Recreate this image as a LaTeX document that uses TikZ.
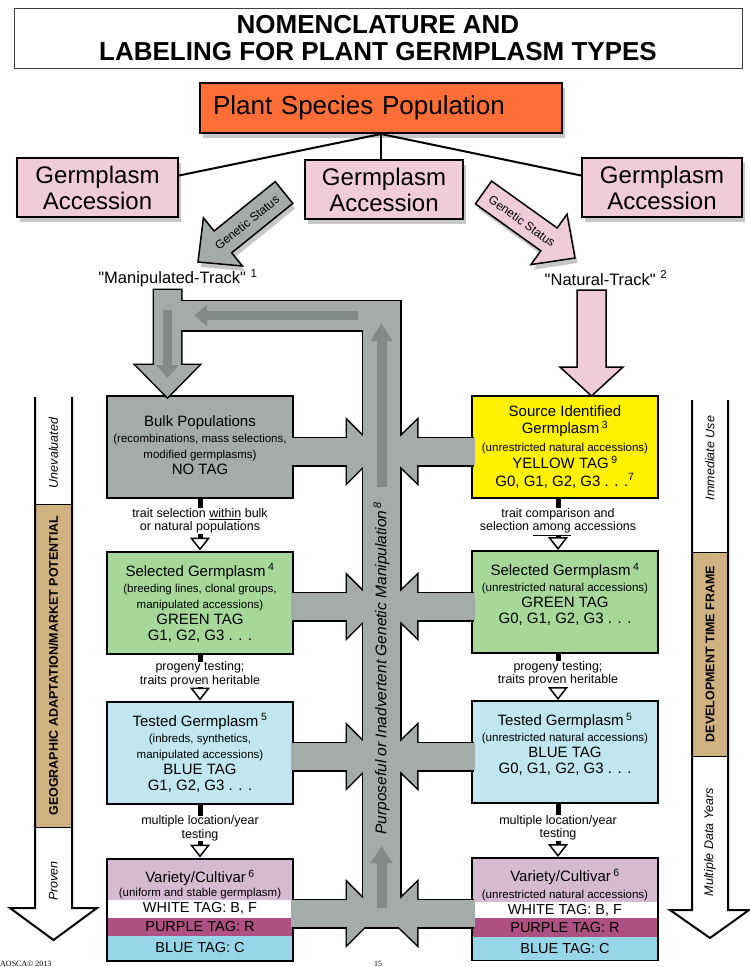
\documentclass[tikz,border=0pt]{standalone}
\usepackage{fontspec}
\setmainfont{Liberation Sans}
\newfontfamily\footfont{Liberation Serif}
\usetikzlibrary{arrows.meta}
\usetikzlibrary{positioning}
\usetikzlibrary{shadows}

\definecolor{orangebox}{RGB}{255,110,55}
\definecolor{pinkbox}{RGB}{240,204,218}
\definecolor{graybox}{RGB}{164,171,168}
\definecolor{grayinner}{RGB}{130,139,135}
\definecolor{yellowbox}{RGB}{255,242,0}
\definecolor{greenbox}{RGB}{166,216,154}
\definecolor{bluebox}{RGB}{192,230,240}
\definecolor{lilacbox}{RGB}{214,186,210}
\definecolor{purpletag}{RGB}{174,80,130}
\definecolor{bluetag}{RGB}{150,214,232}
\definecolor{tanbar}{RGB}{208,178,130}

\newcommand{\fs}[2]{\fontsize{#1}{#2}\selectfont}
\newcommand{\smallline}[1]{{\fs{11.5}{12}#1}}
\newcommand{\qt}[1]{\textquotedbl#1\textquotedbl}

\begin{document}
\begin{tikzpicture}[x=1pt,y=-1pt]
    \tikzstyle{castshadow}=[drop shadow={shadow xshift=2.5pt,shadow yshift=-5pt,opacity=0.22,fill=black}]
    \tikzstyle{accession}=[draw=black,line width=2pt,fill=pinkbox,castshadow,minimum height=59pt,inner sep=0pt,align=center,font=\fs{24}{26}]
    \tikzstyle{link}=[draw=black,line width=2pt]
    \tikzstyle{stage}=[draw=black,line width=2pt,minimum width=186pt,minimum height=102pt,inner sep=0pt]
    \tikzstyle{stagetext}=[align=center,inner sep=0pt,font=\fs{15}{16}]
    \tikzstyle{tagline}=[inner sep=0pt,font=\fs{14.5}{16}]
    \tikzstyle{note}=[align=center,inner sep=0pt,font=\fs{12.5}{13.5}]
    \tikzstyle{stem}=[draw=black,line width=5pt]
    \tikzstyle{stemtip}=[stem,-{Triangle[width=20pt,length=13pt,fill=white,line width=1.5pt]}]
    \tikzstyle{track}=[font=\fs{16.5}{18}]
    \tikzstyle{fatarrow}=[draw=black,line width=1.5pt]
    \tikzstyle{netline}=[draw=black,line width=3pt]
    \tikzstyle{netfill}=[fill=graybox]
    \tikzstyle{flow}=[draw=grayinner,line width=9pt]
    \tikzstyle{sidebar}=[draw=black,line width=2pt]
    \tikzstyle{sideband}=[draw=black,line width=0.6pt,fill=tanbar]
    \tikzstyle{sidenote}=[rotate=90,font=\itshape\fs{12.5}{14}]
    \tikzstyle{sidehead}=[rotate=90,font=\bfseries\fs{12.5}{14}]

    \useasboundingbox (0,0) rectangle (750,967);

    % title
    \node[draw=black!75,line width=1pt,minimum width=728pt,minimum height=60pt,align=center,inner sep=0pt,font=\bfseries\fs{26}{27}] (title) at (378,38) {NOMENCLATURE AND\\LABELING FOR PLANT GERMPLASM TYPES};

    % population and accessions
    \node[draw=black,line width=2pt,fill=orangebox,castshadow,minimum height=50pt,text width=336pt,inner xsep=13pt,inner ysep=0pt,font=\fs{26}{28}] (plant) at (381,108) {Plant Species Population};
    \node[accession,minimum width=161pt] (accL) at (97.5,187.5) {Germplasm\\Accession};
    \node[accession,minimum width=158pt] (accM) at (384,189.5) {Germplasm\\Accession};
    \node[accession,minimum width=160pt] (accR) at (662,187.5) {Germplasm\\Accession};

    \path[link] (plant.south) -- (plant.south |- accM.north);
    \path[link] (plant.south) -- ([yshift=12pt]accL.east);
    \path[link] (plant.south) -- ([yshift=12pt]accR.west);

    % genetic status
    \path[fatarrow,fill=graybox,castshadow] (275.2,181.6) -- (214.1,231.0) -- (203.4,217.8) -- (198,262) -- (242.4,266.0) -- (231.7,252.8) -- (292.8,203.4) -- cycle;
    \node[rotate=38.9,inner sep=0pt,font=\fs{12}{13}] (gsL) at (247,222.5) {Genetic Status};
    \path[fatarrow,fill=pinkbox,castshadow] (491.6,181.1) -- (557.2,228.0) -- (567.05,214.2) -- (575,258) -- (530.95,264.6) -- (540.8,250.8) -- (475.4,203.9) -- cycle;
    \node[rotate=-35.6,inner sep=0pt,font=\fs{12}{13}] (gsR) at (522,221) {Genetic Status};

    % tracks
    \node[track] (mtrack) at (178,278) {\qt{Manipulated-Track}\ \textsuperscript{1}};
    \node[track] (ntrack) at (606,278) {\qt{Natural-Track}\ \textsuperscript{2}};
    \path[fatarrow,fill=pinkbox] (577,290) -- (606,290) -- (606,367) -- (623,367) -- (591.5,396) -- (560,367) -- (577,367) -- cycle;

    % stages
    \node[stage,fill=graybox] (lbulk) at (200,447) {};
    \node[stage,fill=greenbox] (lsel) at (200,602.5) {};
    \node[stage,fill=bluebox] (ltest) at (200,752.5) {};
    \node[stage,fill=lilacbox] (lvar) at (200,909.5) {};
    \node[stage,fill=yellowbox] (rsrc) at (565,447) {};
    \node[stage,fill=greenbox] (rsel) at (565,602) {};
    \node[stage,fill=bluebox] (rtest) at (565,752) {};
    \node[stage,fill=lilacbox] (rvar) at (565,909) {};

    \foreach \cx/\side/\w/\p/\b in {200/l/899.5/917.5/935.5,565/r/902/918/937} {
      \fill[white] (\cx-92,\w) rectangle (\cx+92,\p);
      \fill[purpletag] (\cx-92,\p) rectangle (\cx+92,\b);
      \fill[bluetag] (\cx-92,\b) rectangle (\cx+92,959.5);
      \node[tagline] (white-\side) at (\cx,{(\w+\p)/2}) {WHITE TAG: B, F};
      \node[tagline] (purple-\side) at (\cx,{(\p+\b)/2}) {PURPLE TAG: R};
      \node[tagline] (blue-\side) at (\cx,{(\b+959.5)/2}) {BLUE TAG: C};
    }

    \node[stagetext,below=20pt of lbulk.north] (lbulktext) {Bulk Populations\\\smallline{(recombinations, mass selections,}\\\smallline{modified germplasms)}\\NO TAG};
    \node[stagetext,below=13pt of lsel.north] (lseltext) {Selected Germplasm\,\textsuperscript{4}\\\smallline{(breeding lines, clonal groups,}\\\smallline{manipulated accessions)}\\GREEN TAG\\G1, G2, G3 . . .};
    \node[stagetext,below=13pt of ltest.north] (ltesttext) {Tested Germplasm\,\textsuperscript{5}\\\smallline{(inbreds, synthetics,}\\\smallline{manipulated accessions)}\\BLUE TAG\\G1, G2, G3 . . .};
    \node[stagetext,below=12pt of lvar.north] (lvartext) {Variety/Cultivar\,\textsuperscript{6}\\[-1.5pt]\smallline{(uniform and stable germplasm)}};
    \node[stagetext,font=\fs{15}{17.5},below=10pt of rsrc.north] (rsrctext) {Source Identified\\Germplasm\,\textsuperscript{3}\\\smallline{(unrestricted natural accessions)}\\YELLOW TAG\,\textsuperscript{9}\\G0, G1, G2, G3 . . .\textsuperscript{7}};
    \node[stagetext,below=13pt of rsel.north] (rseltext) {Selected Germplasm\,\textsuperscript{4}\\\smallline{(unrestricted natural accessions)}\\GREEN TAG\\G0, G1, G2, G3 . . .};
    \node[stagetext,below=13pt of rtest.north] (rtesttext) {Tested Germplasm\,\textsuperscript{5}\\\smallline{(unrestricted natural accessions)}\\BLUE TAG\\G0, G1, G2, G3 . . .};
    \node[stagetext,below=12pt of rvar.north] (rvartext) {Variety/Cultivar\,\textsuperscript{6}\\[1pt]\smallline{(unrestricted natural accessions)}};

    % steps between stages
    \node[note,below=9pt of lbulk] (lnote1) {trait selection \underline{within} bulk\\or natural populations};
    \node[note,below=9pt of rsrc,xshift=-7pt] (rnote1) {trait comparison and\\selection \underline{among} accessions};
    \node[note,below=7pt of lsel] (lnote2) {progeny testing;\\traits proven heritable};
    \node[note,below=7pt of rsel,xshift=-7pt] (rnote2) {progeny testing;\\traits proven heritable};
    \node[note,below=11pt of ltest] (lnote3) {multiple location/year\\testing};
    \node[note,below=11pt of rtest,xshift=-7pt] (rnote3) {multiple location/year\\testing};

    \foreach \a/\n/\b in {lbulk/lnote1/lsel,lsel/lnote2/ltest,ltest/lnote3/lvar,rsrc/rnote1/rsel,rsel/rnote2/rtest,rtest/rnote3/rvar} {
      \path[stem] (\n.north |- \a.south) -- (\n.north);
      \path[stemtip] (\n.south) -- (\n.south |- \b.north);
    }

    % manipulation network: outline first, then fill over it
    \foreach \pass/\reach in {netline/0,netfill/2.5} {
      \path[\pass] (363,301) rectangle (400,927);
      \path[\pass] (154,301) rectangle (400,330);
      \path[\pass] (154,290) -- (181,290) -- (181,365) -- (199,365) -- (167.5,397) -- (136,365) -- (154,365) -- cycle;
      \foreach \c in {451.5,606.5,756.5,913.5} {
        \path[\pass] (293-\reach,\c-13.5) rectangle (347,\c+13.5);
        \path[\pass] (347,\c-31) -- (378,\c) -- (347,\c+31) -- cycle;
        \path[\pass] (417,\c-31) -- (385,\c) -- (417,\c+31) -- cycle;
        \path[\pass] (417,\c-13.5) rectangle (472+\reach,\c+13.5);
      }
    }

    \draw[flow,-{Triangle[width=20pt,length=13pt]}] (358,315.5) -- (194,315.5);
    \draw[flow,-{Triangle[width=22pt,length=13pt]}] (167.5,310) -- (167.5,378);
    \draw[flow,line width=10pt,-{Triangle[width=21pt,length=18pt]}] (381.5,487) -- (381.5,323);
    \draw[flow,line width=10pt,-{Triangle[width=21pt,length=17pt]}] (381.5,908) -- (381.5,846);

    \node[rotate=90,font=\itshape\fs{15.5}{17}] (manip) at (381.5,668) {Purposeful or Inadvertent Genetic Manipulation\,\textsuperscript{8}};

    % side scales
    \path[sideband] (35,504) rectangle (72,827);
    \path[sidebar] (35,397) -- (35,908) -- (10,908) -- (53.5,940) -- (97,908) -- (72,908) -- (72,397);
    \node[sidenote] (uneval) at (53.5,453) {Unevaluated};
    \node[sidehead] (geo) at (53.5,665.5) {GEOGRAPHIC ADAPTATION/MARKET POTENTIAL};
    \node[sidenote] (proven) at (53.5,881) {Proven};

    \path[sideband] (692,552) rectangle (728,756);
    \path[sidebar] (692,400) -- (692,910) -- (670,910) -- (710,938) -- (749,910) -- (728,910) -- (728,400);
    \node[sidenote] (immediate) at (710,458) {Immediate Use};
    \node[sidehead] (devtime) at (710,654) {DEVELOPMENT TIME FRAME};
    \node[sidenote] (multiyear) at (710,842) {Multiple Data Years};

    % footer
    \node[anchor=north west,inner sep=0pt,font=\footfont\fs{8}{9}] (copyright) at (0,961) {AOSCA\textcopyright\ 2013};
    \node[anchor=north,inner sep=0pt,font=\footfont\fs{8}{9}] (pageno) at (378,961) {15};
\end{tikzpicture}
\end{document}
